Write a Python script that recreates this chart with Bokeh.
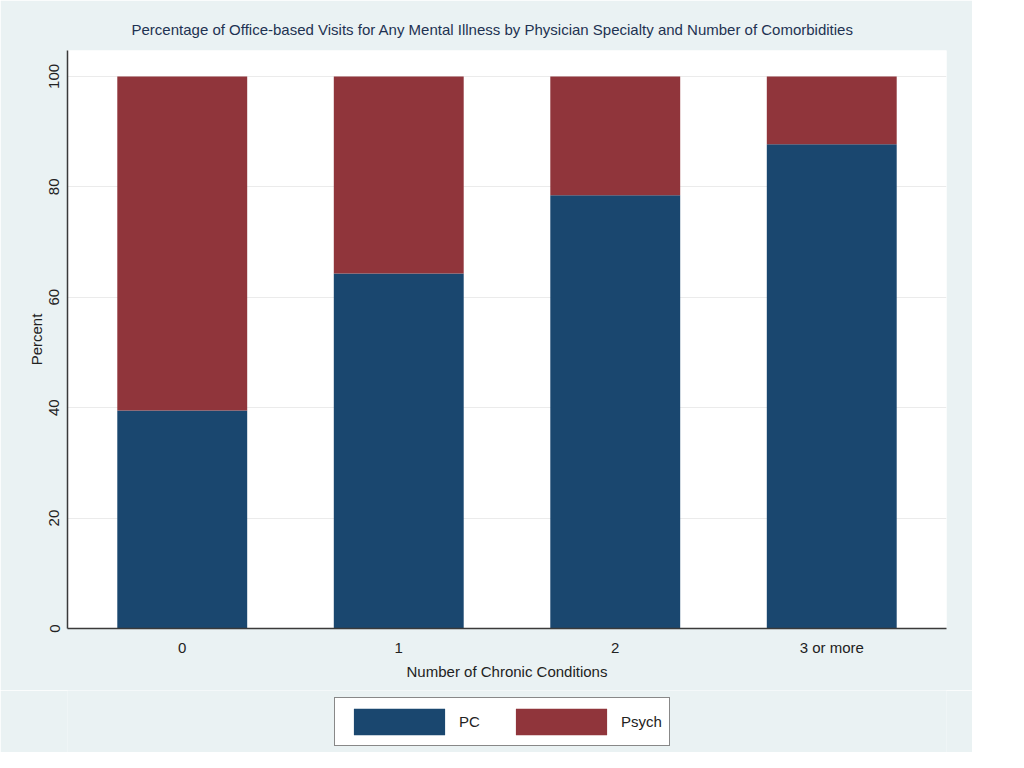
from bokeh.plotting import figure
from bokeh.layouts import column
from bokeh.models import (ColumnDataSource, Range1d, FixedTicker, Legend, LegendItem)
from bokeh.embed import file_html
from bokeh.resources import INLINE

# ---- data ----
categories = ["0", "1", "2", "3 or more"]
pc = [39.5, 64.3, 78.5, 87.7]
psych = [60.5, 35.7, 21.5, 12.3]
series = ["PC", "Psych"]
colors = ["#1a476f", "#90353b"]

title_text = "Percentage of Office-based Visits for Any Mental Illness by Physician Specialty and Number of Comorbidities"
FONT = "Liberation Sans"
BG = "#eaf2f3"

src = ColumnDataSource(dict(x=list(range(len(categories))), PC=pc, Psych=psych))
x_lo, x_hi = -0.53, len(categories) - 1 + 0.53

p = figure(width=972, height=690, output_backend="svg", toolbar_location=None,
           x_range=Range1d(x_lo, x_hi),
           y_range=Range1d(0, 104.7),
           min_border_left=67, min_border_right=26, min_border_top=50, min_border_bottom=62)

p.title.text = title_text
p.title.align = "left"
p.title.offset = 64
p.title.standoff = 25
p.title.text_font = FONT
p.title.text_font_size = "15px"
p.title.text_font_style = "normal"
p.title.text_color = "#1e3252"

p.border_fill_color = BG
p.background_fill_color = "white"
p.outline_line_color = None

renderers = p.vbar_stack(series, x="x", width=0.6, source=src,
                         fill_color=colors, line_color=None)

# axes
p.xaxis.ticker = FixedTicker(ticks=list(range(len(categories))))
p.xaxis.major_label_overrides = {i: c for i, c in enumerate(categories)}
p.yaxis.ticker = FixedTicker(ticks=[0, 20, 40, 60, 80, 100])
p.yaxis.major_label_orientation = "vertical"

for ax in (p.xaxis, p.yaxis):
    ax.major_tick_line_color = None
    ax.minor_tick_line_color = None
    ax.axis_line_color = "#3a3a3a"
    ax.axis_line_width = 1.5
    ax.major_label_text_font = FONT
    ax.major_label_text_font_size = "15px"
    ax.major_label_text_color = "#222222"
    ax.axis_label_text_font = FONT
    ax.axis_label_text_font_size = "15px"
    ax.axis_label_text_font_style = "normal"
    ax.axis_label_text_color = "#222222"

p.xaxis.axis_label = "Number of Chronic Conditions"
p.yaxis.axis_label = "Percent"
p.xaxis.major_label_standoff = 4
p.xaxis.axis_label_standoff = 4
p.yaxis.major_label_standoff = 2
p.yaxis.axis_label_standoff = 2

p.xgrid.grid_line_color = None
p.ygrid.grid_line_color = "#ebebeb"
p.ygrid.grid_line_width = 1

# ---- legend strip (separate figure in the same grey band) ----
# The same stacked series are drawn here far below the visible y range, so that
# the legend has real renderers to take its swatches from.
lg = figure(width=972, height=62, output_backend="svg", toolbar_location=None,
            x_range=Range1d(x_lo, x_hi), y_range=Range1d(1000, 1001),
            min_border_left=67, min_border_right=26, min_border_top=0, min_border_bottom=0)
lg.axis.visible = False
lg.grid.visible = False
lg.outline_line_color = None
lg.background_fill_color = BG
lg.border_fill_color = BG
legend_renderers = lg.vbar_stack(series, x="x", width=0.6, source=src,
                                 fill_color=colors, line_color=None)

legend = Legend(items=[LegendItem(label=s, renderers=[r]) for s, r in zip(series, legend_renderers)],
                orientation="horizontal", location=(267, 6),
                glyph_width=114, glyph_height=33, label_standoff=3, spacing=5,
                label_width=40, padding=7, margin=0,
                border_line_color="#111111", border_line_width=1.5,
                background_fill_color="white", background_fill_alpha=1,
                label_text_font=FONT, label_text_font_size="15px",
                label_text_color="#222222", label_height=33)
lg.add_layout(legend, "center")

layout = column(p, lg, spacing=0)
open("out.html", "w").write(file_html(layout, INLINE))
